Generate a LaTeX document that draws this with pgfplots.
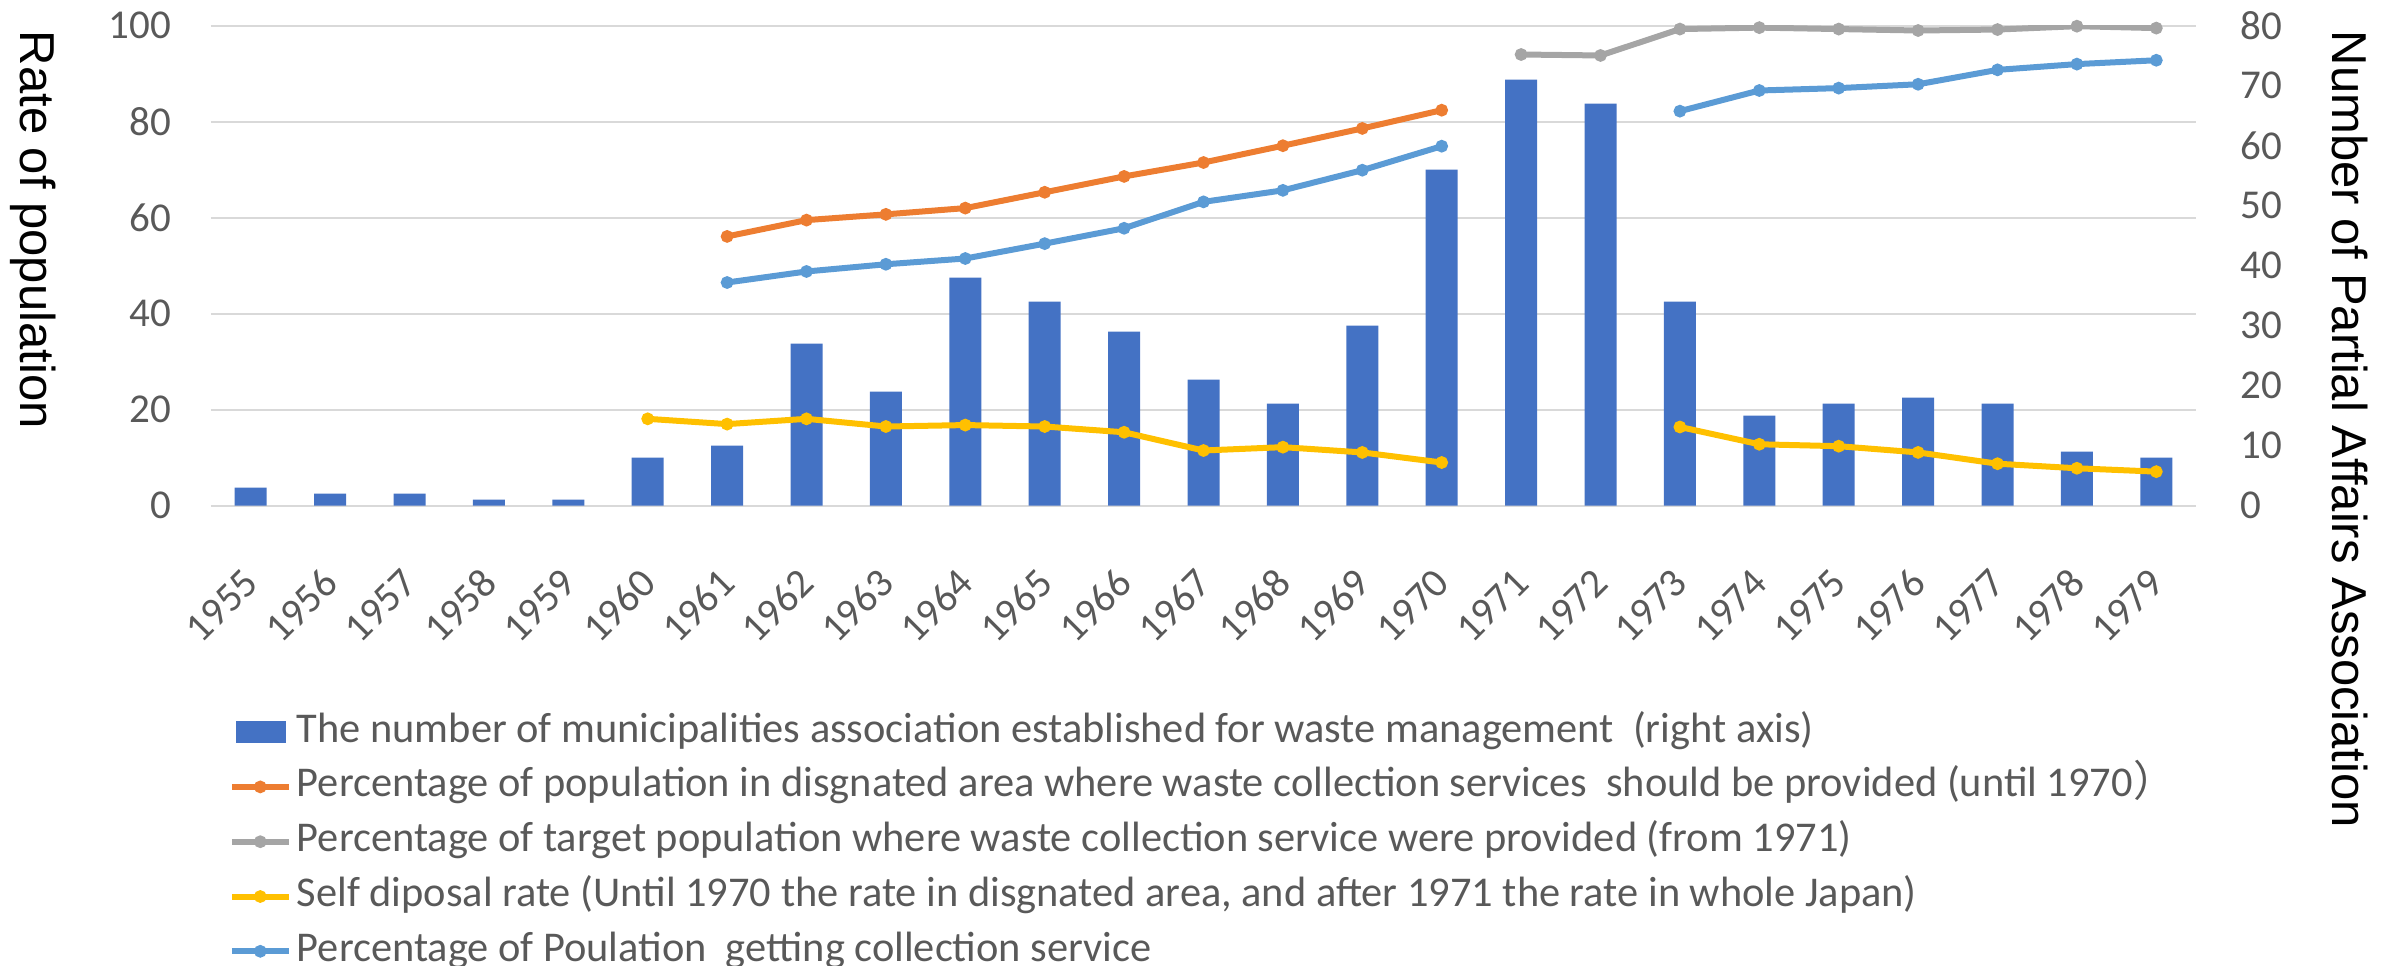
\documentclass[border=0pt]{standalone}
\usepackage{fontspec}
\setmainfont{Carlito}
\newfontfamily\titlefont{Liberation Sans}
\newfontfamily\cjk{Noto Sans CJK JP}
\usepackage{pgfplots}
\pgfplotsset{compat=1.18}
\definecolor{barblue}{RGB}{68,114,196}
\definecolor{corange}{RGB}{237,125,49}
\definecolor{cgray}{RGB}{165,165,165}
\definecolor{cyellow}{RGB}{255,192,0}
\definecolor{cblue}{RGB}{91,155,213}
\definecolor{gridgray}{RGB}{217,217,217}
\definecolor{textgray}{RGB}{89,89,89}
\pgfplotsset{
  base/.style={
    scale only axis, width=496.25pt, height=120pt,
    xmin=1954.5, xmax=1979.5,
    axis line style={draw=none},
    tick style={draw=none},
    tick label style={font=\fontsize{10.25}{12}\selectfont, text=textgray},
    /pgf/number format/assume math mode=true,
    /pgf/number format/1000 sep={},
  },
  lineplot/.style={line width=1.5pt, mark=*, mark size=1.4pt, mark options={solid, line width=0.4pt}},
}
\begin{document}
\begin{tikzpicture}
\path[use as bounding box] (-52.75pt,-114.825pt) rectangle (546.5pt,126.425pt);
% left axis: grid, ticks, title
\begin{axis}[base, ymin=0, ymax=100, ytick={0,20,...,100},
  ymajorgrids, grid style={line width=0.5pt, gridgray},
  xtick={1955,1956,1957,1958,1959,1960,1961,1962,1963,1964,1965,1966,1967,1968,1969,1970,1971,1972,1973,1974,1975,1976,1977,1978,1979},
  xticklabels={1955,1956,1957,1958,1959,1960,1961,1962,1963,1964,1965,1966,1967,1968,1969,1970,1971,1972,1973,1974,1975,1976,1977,1978,1979},
  xticklabel style={yshift=-17.5pt, xshift=0.25pt, rotate=45, anchor=east, inner sep=0pt},
  yticklabel style={xshift=-9.75pt, anchor=east, inner sep=0pt},
  ylabel={\titlefont\fontsize{12.25}{14}\selectfont Rate of population},
  every axis y label/.style={at={([xshift=-47.5pt,yshift=-1.1pt]rel axis cs:0,1)}, rotate=-90, anchor=base west, inner sep=0pt},
]
\addplot[draw=none] coordinates {(1955,0)};
\end{axis}
% right axis: bars
\begin{axis}[base, ymin=0, ymax=80, ytick={0,10,...,80}, yticklabel pos=right,
  xtick=\empty,
  yticklabel style={xshift=11pt, anchor=west, inner sep=0pt},
  ylabel={\titlefont\fontsize{12.25}{14}\selectfont Number of Partial Affairs Association},
  every axis y label/.style={at={([xshift=34pt,yshift=-1.1pt]rel axis cs:1,1)}, rotate=-90, anchor=base west, inner sep=0pt},
  ybar, bar width=8pt]
\addplot[fill=barblue, draw=none] coordinates {
(1955,3) (1956,2) (1957,2) (1958,1) (1959,1) (1960,8) (1961,10) (1962,27) (1963,19) (1964,38)
(1965,34) (1966,29) (1967,21) (1968,17) (1969,30) (1970,56) (1971,71) (1972,67) (1973,34)
(1974,15) (1975,17) (1976,18) (1977,17) (1978,9) (1979,8)};
\end{axis}
% lines on left axis
\begin{axis}[base, ymin=0, ymax=100, hide axis, unbounded coords=jump,
  legend image code/.code={\draw[mark repeat=2,mark phase=2] plot coordinates {(0pt,0pt) (7.125pt,0pt) (14.25pt,0pt)};},
  legend cell align=left,
  legend style={at={(0,0)}, anchor=north west, xshift=4.25pt, yshift=-51.4pt,
    draw=none, fill=none, inner sep=0pt, row sep=3.7pt,
    font=\fontsize{10.6}{12}\selectfont, text=textgray,
    nodes={inner xsep=1.25pt, inner ysep=0pt, text height=7.5pt, text depth=2.5pt}},
]
\addlegendimage{legend image code/.code={\fill[barblue, draw=none] (1pt,-2.75pt) rectangle (13.5pt,2.75pt); \path[draw=none] (0pt,0pt) -- (14.25pt,0pt);}}
\addlegendentry{The number of municipalities association established for waste management\ \ (right axis)}
\addplot[corange, lineplot] coordinates {
(1961,56.1) (1962,59.5) (1963,60.7) (1964,62.0) (1965,65.3) (1966,68.6) (1967,71.5) (1968,75.0) (1969,78.6) (1970,82.4)};
\addlegendentry{Percentage of population in disgnated area where waste collection services\ \ should be provided\ (until 1970{\cjk ）}}
\addplot[cgray, lineplot] coordinates {
(1971,94.0) (1972,93.8) (1973,99.3) (1974,99.6) (1975,99.3) (1976,99.0) (1977,99.2) (1978,99.9) (1979,99.5)};
\addlegendentry{Percentage of target population where waste collection service were provided (from 1971)}
\addplot[cyellow, lineplot] coordinates {
(1960,18.1) (1961,17.0) (1962,18.1) (1963,16.5) (1964,16.8) (1965,16.5) (1966,15.3) (1967,11.5) (1968,12.2) (1969,11.1) (1970,9.0)
(1971,nan) (1972,nan)
(1973,16.4) (1974,12.8) (1975,12.4) (1976,11.1) (1977,8.75) (1978,7.8) (1979,7.1)};
\addlegendentry{Self diposal rate (Until 1970 the rate in disgnated area, and after 1971 the rate in whole Japan)}
\addplot[cblue, lineplot] coordinates {
(1961,46.5) (1962,48.8) (1963,50.3) (1964,51.5) (1965,54.6) (1966,57.8) (1967,63.3) (1968,65.7) (1969,69.9) (1970,74.9)
(1971,nan) (1972,nan)
(1973,82.2) (1974,86.5) (1975,87.0) (1976,87.8) (1977,90.8) (1978,92.0) (1979,92.8)};
\addlegendentry{Percentage of Poulation\ \ getting collection service}
\end{axis}
\end{tikzpicture}
\end{document}
